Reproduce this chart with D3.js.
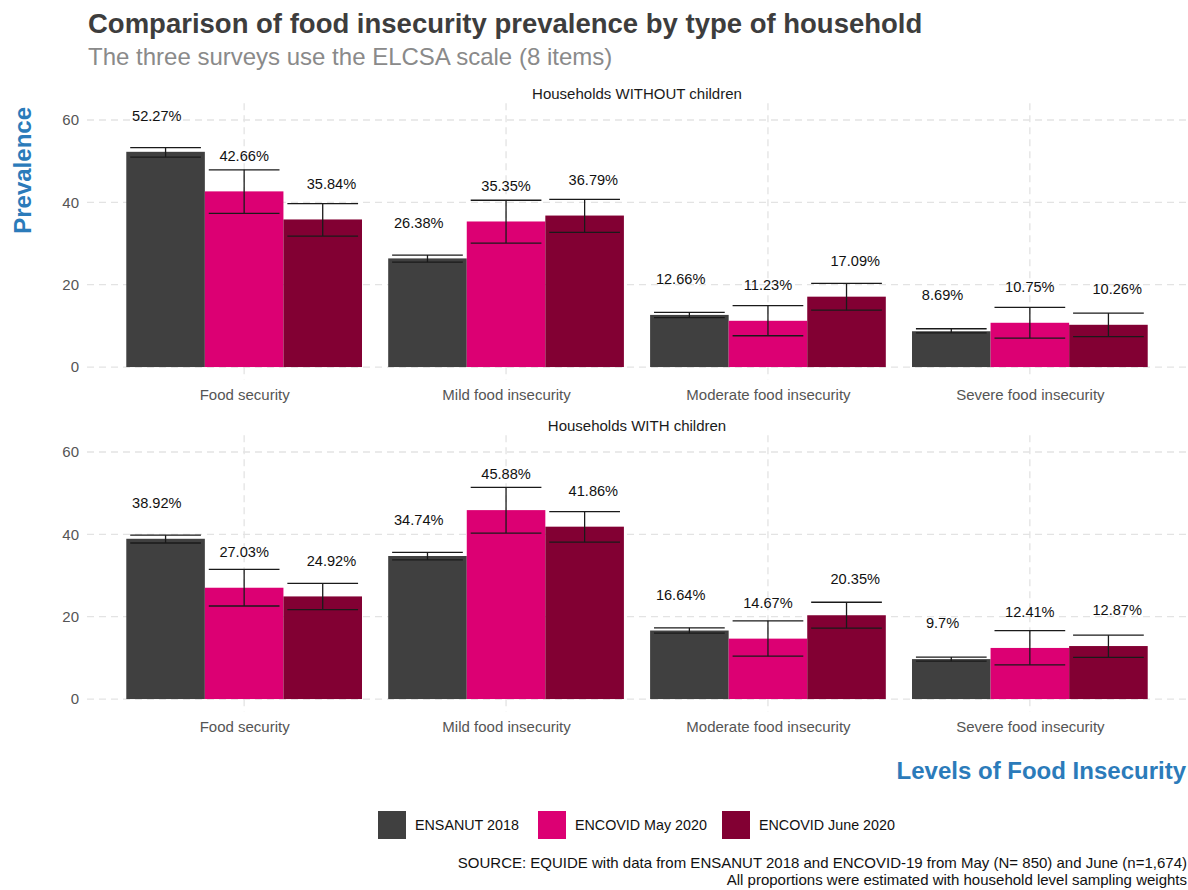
<!DOCTYPE html>
<html>
<head>
<meta charset="utf-8">
<script src="https://cdn.jsdelivr.net/npm/d3@7"></script>
<style>
  html, body { margin: 0; padding: 0; background: #fff; }
  svg { display: block; font-family: "Liberation Sans", Arial, Helvetica, sans-serif; }
</style>
</head>
<body>
<script>
// ---------- data ----------
const categories = ["Food security", "Mild food insecurity", "Moderate food insecurity", "Severe food insecurity"];
const surveys = ["ENSANUT 2018", "ENCOVID May 2020", "ENCOVID June 2020"];
const panels = ["Households WITHOUT children", "Households WITH children"];
const yTicks = [0, 20, 40, 60];

// Households WITHOUT children
const withoutEnsanut = [52.27, 26.38, 12.66, 8.69];
const withoutMay     = [42.66, 35.35, 11.23, 10.75];
const withoutJune    = [35.84, 36.79, 17.09, 10.26];
const withoutEnsanutLow = [51.0, 25.5, 12.0, 8.3];
const withoutEnsanutHigh = [53.3, 27.2, 13.3, 9.3];
const withoutMayLow  = [37.3, 30.1, 7.6, 7.0];
const withoutMayHigh = [47.9, 40.5, 14.9, 14.5];
const withoutJuneLow  = [31.8, 32.7, 13.8, 7.4];
const withoutJuneHigh = [39.7, 40.7, 20.3, 13.1];

// Households WITH children
const withEnsanut = [38.92, 34.74, 16.64, 9.7];
const withMay     = [27.03, 45.88, 14.67, 12.41];
const withJune    = [24.92, 41.86, 20.35, 12.87];
const withEnsanutLow = [37.9, 33.8, 16.0, 9.2];
const withEnsanutHigh = [39.8, 35.6, 17.3, 10.2];
const withMayLow  = [22.6, 40.3, 10.4, 8.3];
const withMayHigh = [31.5, 51.4, 19.0, 16.6];
const withJuneLow  = [21.7, 38.1, 17.2, 10.1];
const withJuneHigh = [28.1, 45.5, 23.5, 15.5];

const colors = ["#404040", "#dc0073", "#820033"];

// ---------- build rows ----------
function rows(vals, lows, highs) {
  const out = [];
  surveys.forEach((s, si) => {
    categories.forEach((c, ci) => {
      out.push({ survey: s, si, category: c, value: vals[si][ci], low: lows[si][ci], high: highs[si][ci] });
    });
  });
  return out;
}
const panelData = [
  rows([withoutEnsanut, withoutMay, withoutJune],
       [withoutEnsanutLow, withoutMayLow, withoutJuneLow],
       [withoutEnsanutHigh, withoutMayHigh, withoutJuneHigh]),
  rows([withEnsanut, withMay, withJune],
       [withEnsanutLow, withMayLow, withJuneLow],
       [withEnsanutHigh, withMayHigh, withJuneHigh])
];

// ---------- layout ----------
const W = 1188, H = 890;
const left = 87, right = 1187;
const panelTops = [103.3, 435.3];
const panelH = 276.3;
const yDomain = [-3.05, 64.05];

const svg = d3.select("body").append("svg").attr("width", W).attr("height", H);

const x = d3.scalePoint().domain(categories).range([left, right]).padding(0.6);
const step = x.step();
const xDodge = d3.scaleBand().domain(surveys).range([-0.45 * step, 0.45 * step]);
const xLabel = d3.scalePoint().domain(surveys).range([-step / 3, step / 3]);
const color = d3.scaleOrdinal().domain(surveys).range(colors);

// Title & subtitle
svg.append("text").attr("x", 88).attr("y", 33)
  .attr("font-size", 27.5).attr("font-weight", "bold").attr("fill", "#3d3d3d")
  .text("Comparison of food insecurity prevalence by type of household");
svg.append("text").attr("x", 88).attr("y", 65)
  .attr("font-size", 24).attr("fill", "#8a8a8a")
  .text("The three surveys use the ELCSA scale (8 items)");

panelData.forEach((data, pi) => {
  const top = panelTops[pi];
  const y = d3.scaleLinear().domain(yDomain).range([top + panelH, top]);
  const g = svg.append("g");

  // strip label
  g.append("text").attr("x", (left + right) / 2).attr("y", top - 4)
    .attr("text-anchor", "middle").attr("font-size", 15).attr("fill", "#1a1a1a")
    .text(panels[pi]);

  // grid
  g.selectAll(".hgrid").data(yTicks).join("line")
    .attr("x1", left).attr("x2", right)
    .attr("y1", d => y(d)).attr("y2", d => y(d))
    .attr("stroke", "#e3e3e3").attr("stroke-width", 1.3).attr("stroke-dasharray", "7,5");
  g.selectAll(".vgrid").data(categories).join("line")
    .attr("x1", d => x(d)).attr("x2", d => x(d))
    .attr("y1", top).attr("y2", top + panelH)
    .attr("stroke", "#e3e3e3").attr("stroke-width", 1.3).attr("stroke-dasharray", "7,5");

  // y axis
  const yAxis = d3.axisLeft(y).tickValues(yTicks).tickSize(0).tickPadding(0);
  const ya = g.append("g").attr("transform", `translate(${left - 8},0)`).call(yAxis);
  ya.select(".domain").remove();
  ya.selectAll("text").attr("font-size", 15).attr("fill", "#555")
    .attr("font-family", "Liberation Sans, Arial, sans-serif");

  // x axis labels
  const xAxis = d3.axisBottom(x).tickSize(0).tickPadding(0);
  const xa = g.append("g").attr("transform", `translate(0,${y(0) + 22})`).call(xAxis);
  xa.select(".domain").remove();
  xa.selectAll("text").attr("font-size", 15).attr("fill", "#555")
    .attr("font-family", "Liberation Sans, Arial, sans-serif");

  // bars
  g.selectAll(".bar").data(data).join("rect")
    .attr("x", d => x(d.category) + xDodge(d.survey))
    .attr("width", xDodge.bandwidth())
    .attr("y", d => y(d.value))
    .attr("height", d => y(0) - y(d.value))
    .attr("fill", d => color(d.survey));

  // error bars
  const ew = xDodge.bandwidth() * 0.9;
  const eb = g.selectAll(".eb").data(data).join("g")
    .attr("transform", d => `translate(${x(d.category) + xDodge(d.survey) + xDodge.bandwidth() / 2},0)`);
  eb.append("line").attr("x1", 0).attr("x2", 0)
    .attr("y1", d => y(d.low)).attr("y2", d => y(d.high))
    .attr("stroke", "#1a1a1a").attr("stroke-width", 1.3);
  eb.append("line").attr("x1", -ew / 2).attr("x2", ew / 2)
    .attr("y1", d => y(d.low)).attr("y2", d => y(d.low))
    .attr("stroke", "#1a1a1a").attr("stroke-width", 1.3);
  eb.append("line").attr("x1", -ew / 2).attr("x2", ew / 2)
    .attr("y1", d => y(d.high)).attr("y2", d => y(d.high))
    .attr("stroke", "#1a1a1a").attr("stroke-width", 1.3);

  // value labels
  g.selectAll(".lbl").data(data).join("text")
    .attr("x", d => x(d.category) + xLabel(d.survey))
    .attr("y", d => y(d.value + 8.7) + 5)
    .attr("text-anchor", "middle").attr("font-size", 14.6).attr("fill", "#111")
    .text(d => d.value + "%");
});

// Axis titles
svg.append("text")
  .attr("transform", `translate(31,107) rotate(-90)`)
  .attr("text-anchor", "end").attr("font-size", 24).attr("font-weight", "bold").attr("fill", "#2b7bba")
  .text("Prevalence");
svg.append("text").attr("x", 1186).attr("y", 779)
  .attr("text-anchor", "end").attr("font-size", 24).attr("font-weight", "bold").attr("fill", "#2b7bba")
  .text("Levels of Food Insecurity");

// Legend
const legendX = [378, 538, 722];
const lg = svg.append("g");
surveys.forEach((s, i) => {
  lg.append("rect").attr("x", legendX[i]).attr("y", 811).attr("width", 28).attr("height", 28).attr("fill", color(s));
  lg.append("text").attr("x", legendX[i] + 37).attr("y", 830).attr("font-size", 14.3).attr("fill", "#111").text(s);
});

// Source
svg.append("text").attr("x", 1187).attr("y", 868).attr("text-anchor", "end")
  .attr("font-size", 15).attr("fill", "#111")
  .text("SOURCE: EQUIDE with data from ENSANUT 2018 and ENCOVID-19 from May (N= 850) and June (n=1,674)");
svg.append("text").attr("x", 1187).attr("y", 885).attr("text-anchor", "end")
  .attr("font-size", 15).attr("fill", "#111")
  .text("All proportions were estimated with household level sampling weights");
</script>
</body>
</html>
